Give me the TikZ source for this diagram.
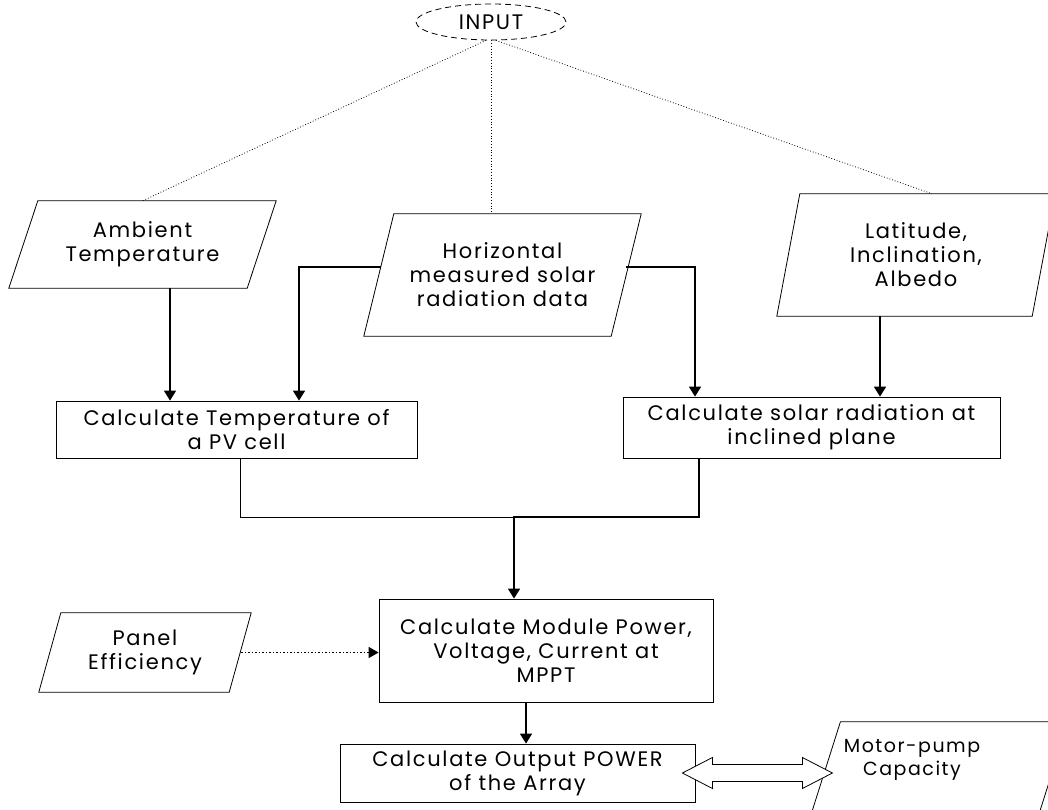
\documentclass[tikz,border=0pt]{standalone}
\usepackage{fontspec}
\setmainfont[LetterSpace=8]{Poppins}
\usetikzlibrary{shapes.geometric,arrows.meta}
\tikzset{
  proc/.style={draw,rectangle,align=center,inner sep=0pt,line width=0.8pt},
  iobox/.style={rectangle,align=center,inner sep=0pt},
  flow/.style={line width=1.6pt,-{Triangle[length=10pt,width=12pt]}},
  thinline/.style={line width=0.8pt},
  link/.style={dotted,line width=0.8pt},
}
% slanted frame round a node: name, slant
\newcommand{\slantframe}[2]{%
  \draw[line width=0.8pt] ([xshift=#2]#1.north west) -- (#1.north east)
    -- ([xshift=-#2]#1.south east) -- (#1.south west) -- cycle;}
\begin{document}
\begin{tikzpicture}[x=1pt,y=-1pt,font=\fontsize{21}{24}\selectfont]
  \useasboundingbox (0,0) rectangle (1048,810);
  \node[draw,dash pattern=on 6pt off 4pt,ellipse,line width=0.8pt,minimum width=150pt,minimum height=36pt,inner sep=0pt] (input) at (491,22) {INPUT};
  \node[iobox,minimum width=267pt,minimum height=87pt] (amb) at (142.5,244.5) {Ambient\\Temperature};
  \node[iobox,minimum width=277pt,minimum height=122pt] (horiz) at (502.5,275) {Horizontal\\measured solar\\radiation data};
  \node[iobox,minimum width=278pt,minimum height=122pt] (lat) at (916,255) {Latitude,\\Inclination,\\Albedo};
  \node[proc,minimum width=361pt,minimum height=57pt] (temp) at (236.5,429.5) {Calculate Temperature of\\a PV cell};
  \node[proc,minimum width=377pt,minimum height=61pt] (solar) at (811.5,427.5) {Calculate solar radiation at\\inclined plane};
  \node[proc,minimum width=334pt,minimum height=103pt] (module) at (546,650.5) {Calculate Module Power,\\Voltage, Current at\\MPPT};
  \node[proc,minimum width=355pt,minimum height=58pt] (out) at (517.5,773) {Calculate Output POWER\\of the Array};
  \node[iobox,minimum width=212pt,minimum height=79pt] (panel) at (145,652.5) {Panel\\Efficiency};
  \node[iobox,minimum width=257pt,minimum height=93pt] (pump) at (939.5,768.5) {};
  \node[align=center,inner sep=0pt,font=\fontsize{19}{23}\selectfont] (pumptext) at (912,760) {Motor-pump\\Capacity};
  \slantframe{amb}{29pt}
  \slantframe{horiz}{30pt}
  \slantframe{lat}{23pt}
  \slantframe{panel}{22pt}
  \slantframe{pump}{29.6pt}

  \draw[link] (input.255) -- (amb.north);
  \draw[link] (input.south) -- (input.south |- horiz.north);
  \draw[link] (input.285) -- ([xshift=16pt]lat.north);

  \draw[flow] ([xshift=27.5pt]amb.south) -- ([xshift=27.5pt]amb.south |- temp.north);
  \draw[flow] ([xshift=17pt,yshift=8pt]horiz.west) -| ([xshift=62.5pt]temp.north);
  \draw[flow] ([xshift=-15pt,yshift=8pt]horiz.east) -| ([xshift=-116.5pt]solar.north);
  \draw[flow] ([xshift=-36pt]lat.south) -- ([xshift=-36pt]lat.south |- solar.north);

  \coordinate (join) at (514,517);
  \draw[thinline] ([xshift=3.5pt]temp.south) |- (join);
  \draw[flow] ([xshift=-112.5pt]solar.south) |- (join) -- (join |- module.north);
  \draw[flow] ([xshift=-20pt]module.south) -- ([xshift=-20pt]module.south |- out.north);
  \draw[dotted,line width=1.5pt,-{Triangle[length=10pt,width=11pt]}] ([xshift=-10pt]panel.east) -- (panel.east -| module.west);

  \draw[line width=0.8pt,fill=white] ([xshift=-13pt]out.east) -- ++(30,-15.5) -- ++(0,7) -- ++(90,0)
    -- ++(0,-7) -- ++(30,15.5) -- ++(-30,15.5) -- ++(0,-7) -- ++(-90,0) -- ++(0,7) -- cycle;
\end{tikzpicture}
\end{document}
